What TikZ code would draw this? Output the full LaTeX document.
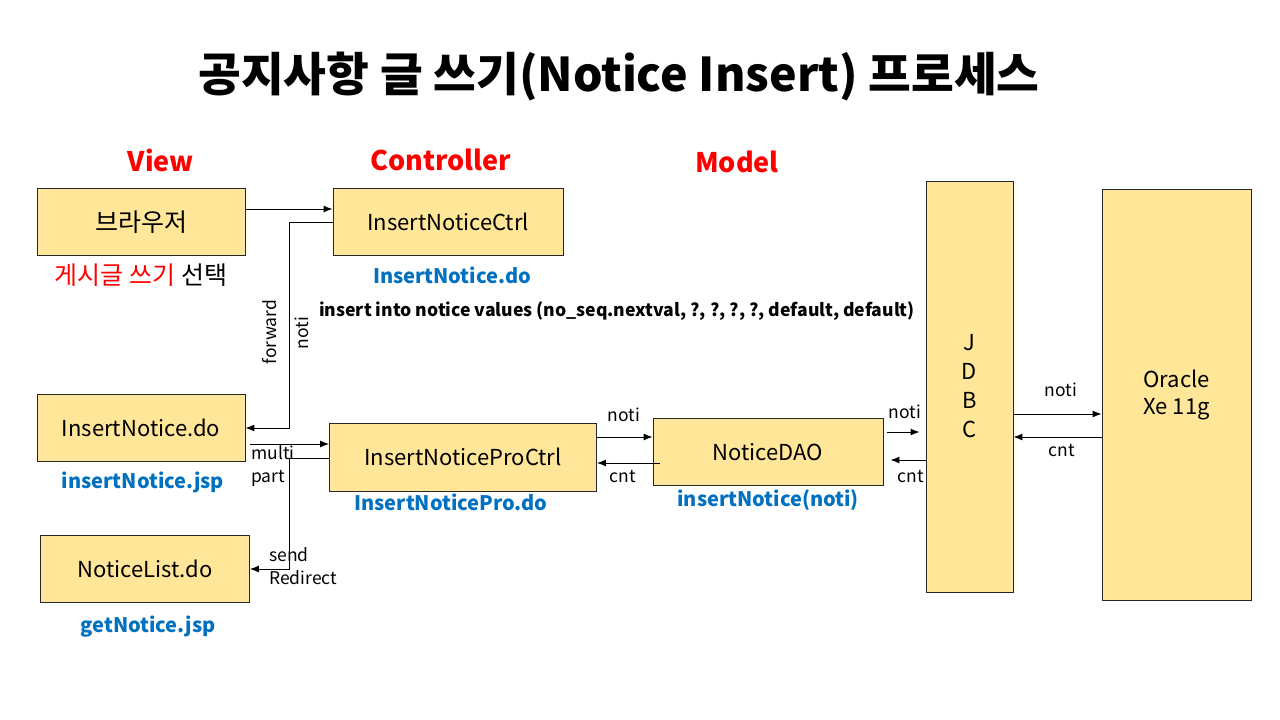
\documentclass[tikz,border=0pt]{standalone}
\usepackage{fontspec}
\setmainfont{Noto Sans CJK KR}
\usetikzlibrary{positioning,calc,arrows.meta}
\definecolor{boxfill}{HTML}{FFE699}
\definecolor{fileblue}{HTML}{0070C0}
\tikzset{
  box/.style={draw=black!85, line width=0.9pt, fill=boxfill, minimum width=208pt, minimum height=67pt, inner sep=0pt, font=\fontsize{22}{29}\selectfont},
  layer/.style={text=red, font=\bfseries\fontsize{27}{30}\selectfont},
  file/.style={text=fileblue, font=\bfseries\fontsize{20}{23}\selectfont},
  tag/.style={font=\fontsize{17.5}{23}\selectfont, inner sep=1pt},
  flow/.style={-{Latex[length=9pt,width=7pt]}, line width=1pt},
}
\begin{document}
\begin{tikzpicture}[x=1pt,y=-1pt]
  \useasboundingbox[fill=white] (0,0) rectangle (1280,720);
  \node[font=\bfseries\fontsize{46.5}{50}\selectfont] (title) at (619,77) {공지사항 글 쓰기(Notice Insert) 프로세스};
  % MVC layers
  \node[layer] (view) at (161,160) {View};
  \node[layer] (ctrlhd) at (441,160) {Controller};
  \node[layer] (model) at (737,162) {Model};
  % boxes
  \node[box, font=\fontsize{25}{29}\selectfont] (brw) at (141,222) {브라우저};
  \node[box, minimum width=230pt] (ctrl) at (448,222) {InsertNoticeCtrl};
  \node[box] (ins) at (141,428) {InsertNotice.do};
  \node[box, minimum width=267pt, minimum height=68pt] (pro) at (463,457) {InsertNoticeProCtrl};
  \node[box, minimum width=230pt] (dao) at (768,452) {NoticeDAO};
  \node[box, minimum width=209pt] (list) at (145,569) {NoticeList.do};
  \node[box, minimum width=87pt, minimum height=411pt, align=center] (jdbc) at (969.5,386.5) {J\\D\\B\\C};
  \node[box, minimum width=149pt, minimum height=411pt, align=center, font=\fontsize{22}{27}\selectfont] (ora) at (1176.5,394.5) {Oracle\\Xe 11g};
  % file labels
  \node[font=\fontsize{25}{29}\selectfont] (sel) at (141,275) {\textcolor{red}{게시글 쓰기} 선택};
  \node[file] (ctrldo) at (452,275) {InsertNotice.do};
  \node[file] (insjsp) at (143,482) {insertNotice.jsp};
  \node[file] (prodo) at (451,502) {InsertNoticePro.do};
  \node[file] (daofn) at (768,500) {insertNotice(noti)};
  \node[file] (listjsp) at (148,627) {getNotice.jsp};
  \node[font=\bfseries\fontsize{17.6}{20}\selectfont] (sql) at (617,311) {insert into notice values (no\_seq.nextval, ?, ?, ?, ?, default, default)};
  % connectors
  \draw[flow] ($(brw.east)+(0,-13)$) -- ($(ctrl.west)+(0,-13)$);
  \draw[flow] (ctrl.west) -- ++(-43,0) |- (ins.east);
  \node[tag, rotate=90] (fwd) at (270,332) {forward};
  \node[tag, rotate=90] (noti1) at (302,333) {noti};
  \draw[flow] ($(ins.east)+(5,16)$) -- ($(pro.west)+(0,-13)$);
  \draw[flow] ($(pro.west)+(0,1)$) -- ++(-40,0) |- (list.east);
  \node[tag, align=left, anchor=west] (multi) at (250,466) {multi\\part};
  \node[tag, align=left, anchor=west] (redir) at (268,566) {send\\Redirect};
  \draw[flow] ($(pro.east)+(0,-20)$) -- ($(dao.west)+(0,-15)$);
  \draw[flow] ($(dao.west)+(7,11)$) -- ($(pro.east)+(0,6)$);
  \node[tag] (noti2) at (624,415) {noti};
  \node[tag] (cnt2) at (623,477) {cnt};
  \draw[flow] ($(dao.east)+(4,-20)$) -- ($(jdbc.west|-dao.east)+(-6,-20)$);
  \draw[flow] ($(jdbc.west|-dao.east)+(0,8)$) -- ($(dao.east)+(7,8)$);
  \node[tag] (noti3) at (905,412) {noti};
  \node[tag] (cnt3) at (911,477) {cnt};
  \draw[flow] ($(jdbc.east)+(0,27.5)$) -- ($(ora.west)+(0,19.5)$);
  \draw[flow] ($(ora.west)+(0,42.5)$) -- ($(jdbc.east)+(0,50.5)$);
  \node[tag] (noti4) at (1061,390) {noti};
  \node[tag] (cnt4) at (1062,451) {cnt};
\end{tikzpicture}
\end{document}
